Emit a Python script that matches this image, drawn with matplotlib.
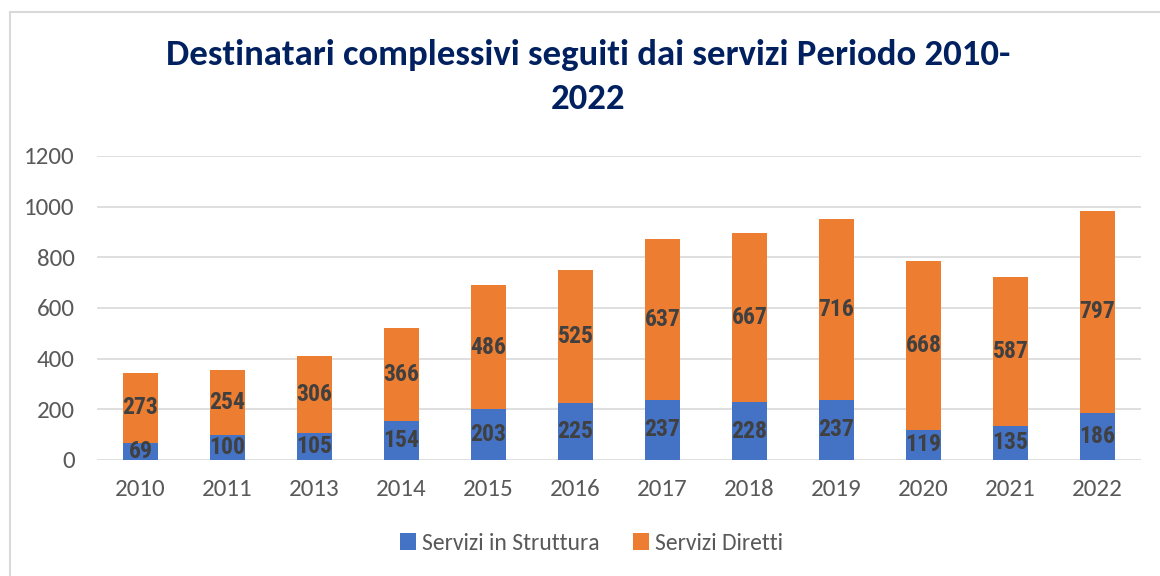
import matplotlib.pyplot as plt
from matplotlib.patches import Rectangle

# data
years = ["2010", "2011", "2013", "2014", "2015", "2016", "2017", "2018", "2019", "2020", "2021", "2022"]
struttura = [69, 100, 105, 154, 203, 225, 237, 228, 237, 119, 135, 186]
diretti = [273, 254, 306, 366, 486, 525, 637, 667, 716, 668, 587, 797]

blue = "#4472C4"
orange = "#ED7D31"
label_color = "#404040"
tick_color = "#595959"
base_font = ["Carlito", "DejaVu Sans"]

fig = plt.figure(figsize=(11.6, 5.76), dpi=100)
ax = fig.add_axes([0.0836, 0.2014, 0.9, 0.5278])

x = range(len(years))
b1 = ax.bar(x, struttura, width=0.40, color=blue, label="Servizi in Struttura", zorder=3)
b2 = ax.bar(x, diretti, width=0.40, bottom=struttura, color=orange, label="Servizi Diretti", zorder=3)

lab_font = dict(family=["Roboto Condensed", "DejaVu Sans"], weight="bold", size=17, color=label_color)
ax.bar_label(b1, labels=[str(v) for v in struttura], label_type="center", **lab_font)
ax.bar_label(b2, labels=[str(v) for v in diretti], label_type="center", **lab_font)

ax.set_xlim(-0.5, len(years) - 0.5)
ax.set_ylim(0, 1200)
ax.set_yticks(range(0, 1201, 200))
ax.set_xticks(list(x))
ax.set_xticklabels(years)
ax.grid(axis="y", color="#D9D9D9", linewidth=1.2, zorder=0)
ax.tick_params(length=0, labelsize=18, labelcolor=tick_color)
ax.tick_params(axis="y", pad=16)
ax.tick_params(axis="x", pad=14)
for lbl in ax.get_xticklabels() + ax.get_yticklabels():
    lbl.set_family(base_font)
for s in ax.spines.values():
    s.set_visible(False)

fig.text(0.507, 0.866, "Destinatari complessivi seguiti dai servizi Periodo 2010-\n2022",
         ha="center", va="center", fontsize=26.5, weight="bold", color="#002060",
         family=base_font, linespacing=1.45)

leg = fig.legend(loc="center", bbox_to_anchor=(0.510, 0.057), ncol=2, frameon=False,
                 handlelength=0.7, handleheight=0.7, handletextpad=0.25, columnspacing=1.4,
                 prop={"family": base_font, "size": 17})
for t in leg.get_texts():
    t.set_color(tick_color)

# chart frame
fig.patches.append(Rectangle((10 / 1160, -0.1), 1.2, (576 - 12) / 576 + 0.1, transform=fig.transFigure,
                             fill=False, edgecolor="#D9D9D9", linewidth=1.5))

output_path = "out.png"
fig.savefig(output_path, dpi=100)
print(f"Plot saved as {output_path}")
